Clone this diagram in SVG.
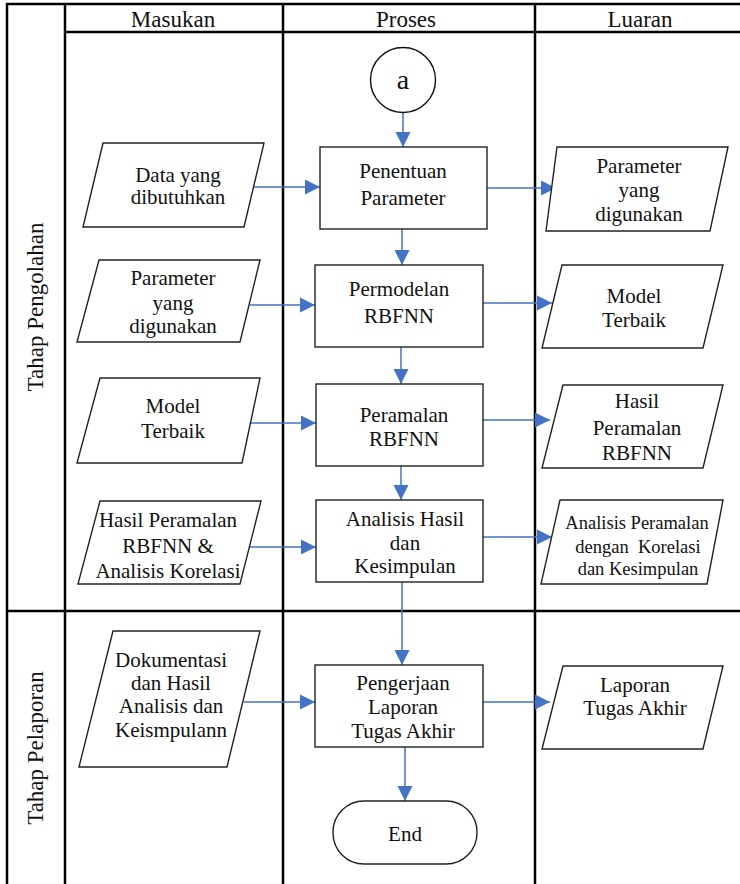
<svg xmlns="http://www.w3.org/2000/svg" width="740" height="884" viewBox="0 0 740 884">
<style>
text{font-family:'Liberation Serif',Tinos,'Times New Roman','DejaVu Serif','Noto Serif',serif;fill:#111;text-anchor:middle}
.hd{font-size:23px}
.t{font-size:21px}
.s{font-size:18.5px}
.lane{stroke:#000;stroke-width:2.5;fill:none}
.box{fill:#fff;stroke:#222;stroke-width:1.4}
.con{stroke:#4472C4;stroke-width:1.5;fill:none;marker-end:url(#ah)}
</style>
<defs>
<marker id="ah" markerUnits="userSpaceOnUse" markerWidth="16" markerHeight="16" viewBox="0 0 16 16" refX="15" refY="8" orient="auto">
<path d="M0,0.5 L15,8 L0,15.5 Z" fill="#4472C4"/>
</marker>
</defs>
<rect width="740" height="884" fill="#fff"/>
<g id="swimlanes" font-family="Liberation Serif, Tinos, Times New Roman, DejaVu Serif, serif">
<path class="lane" d="M7,884 V4 H742 M65,4 V884 M283,4 V884 M535,4 V884 M65,32 H742 M7,611 H742"/>
<text class="hd" x="173" y="27">Masukan</text>
<text class="hd" x="406" y="27">Proses</text>
<text class="hd" x="640" y="27">Luaran</text>
<text class="hd" transform="translate(43,307) rotate(-90)">Tahap Pengolahan</text>
<text class="hd" transform="translate(43,748) rotate(-90)">Tahap Pelaporan</text>
</g>
<g id="connectors">
<line class="con" x1="403" y1="113" x2="403" y2="147"/>
<line class="con" x1="254" y1="187" x2="320" y2="187"/>
<line class="con" x1="487" y1="188" x2="556" y2="188"/>
<line class="con" x1="402" y1="229" x2="402" y2="265"/>
<line class="con" x1="250" y1="305" x2="315" y2="305"/>
<line class="con" x1="483" y1="303" x2="552" y2="303"/>
<line class="con" x1="401" y1="347" x2="401" y2="384"/>
<line class="con" x1="251" y1="423" x2="316" y2="423"/>
<line class="con" x1="483" y1="420" x2="550" y2="420"/>
<line class="con" x1="401" y1="466" x2="401" y2="500"/>
<line class="con" x1="248" y1="547" x2="316" y2="547"/>
<line class="con" x1="483" y1="537" x2="552" y2="537"/>
<line class="con" x1="402" y1="582" x2="402" y2="665"/>
<line class="con" x1="244" y1="702" x2="315" y2="702"/>
<line class="con" x1="483" y1="702" x2="550" y2="702"/>
<line class="con" x1="405" y1="747" x2="405" y2="801"/>
</g>
<g id="node-a">
<circle cx="403" cy="80" r="32.5" fill="#fff" stroke="#111" stroke-width="1.4"/>
<text x="403" y="89" style="font-size:28px">a</text>
</g>
<g id="node-data">
<polygon class="box" points="103,143 264,143 244,227 83,227"/>
<text class="t" x="178" y="182">Data yang</text>
<text class="t" x="178" y="204">dibutuhkan</text>
</g>
<g id="node-penentuan">
<rect class="box" x="320" y="147" width="167" height="82"/>
<text class="t" x="403" y="178">Penentuan</text>
<text class="t" x="403" y="205">Parameter</text>
</g>
<g id="node-param-out">
<polygon class="box" points="557,147 728,147 710,231 546,231"/>
<text class="t" x="639" y="173">Parameter</text>
<text class="t" x="639" y="197">yang</text>
<text class="t" x="639" y="221">digunakan</text>
</g>
<g id="node-param-in">
<polygon class="box" points="99,260 260,260 240,342 77,342"/>
<text class="t" x="173" y="285">Parameter</text>
<text class="t" x="173" y="310">yang</text>
<text class="t" x="173" y="333">digunakan</text>
</g>
<g id="node-permodelan">
<rect class="box" x="315" y="265" width="168" height="82"/>
<text class="t" x="399" y="296">Permodelan</text>
<text class="t" x="399" y="323">RBFNN</text>
</g>
<g id="node-model-out">
<polygon class="box" points="562,265 723,265 703,348 542,348"/>
<text class="t" x="634" y="303">Model</text>
<text class="t" x="634" y="327">Terbaik</text>
</g>
<g id="node-model-in">
<polygon class="box" points="100,378 260,378 242,463 77,463"/>
<text class="t" x="173" y="413">Model</text>
<text class="t" x="173" y="438">Terbaik</text>
</g>
<g id="node-peramalan">
<rect class="box" x="316" y="384" width="167" height="82"/>
<text class="t" x="404" y="422">Peramalan</text>
<text class="t" x="404" y="446">RBFNN</text>
</g>
<g id="node-hasil-out">
<polygon class="box" points="563,385 723,385 703,468 542,468"/>
<text class="t" x="637" y="408">Hasil</text>
<text class="t" x="637" y="435">Peramalan</text>
<text class="t" x="637" y="460">RBFNN</text>
</g>
<g id="node-hasil-in">
<polygon class="box" points="100,501 261,501 240,584 78,584"/>
<text class="t" x="168" y="527">Hasil Peramalan</text>
<text class="t" x="168" y="553">RBFNN &amp;</text>
<text class="t" x="168" y="578">Analisis Korelasi</text>
</g>
<g id="node-analisis">
<rect class="box" x="316" y="500" width="167" height="82"/>
<text class="t" x="405" y="526">Analisis Hasil</text>
<text class="t" x="405" y="550">dan</text>
<text class="t" x="405" y="573">Kesimpulan</text>
</g>
<g id="node-analisis-out">
<polygon class="box" points="560,500 723,500 707,584 541,584"/>
<text class="s" x="637" y="529">Analisis Peramalan</text>
<text class="s" x="638" y="553" xml:space="preserve">dengan  Korelasi</text>
<text class="s" x="638" y="575">dan Kesimpulan</text>
</g>
<g id="node-dokumentasi">
<polygon class="box" points="113,631 260,631 227,767 79,767"/>
<text class="t" x="171" y="667">Dokumentasi</text>
<text class="t" x="171" y="690">dan Hasil</text>
<text class="t" x="171" y="713">Analisis dan</text>
<text class="t" x="171" y="737">Keismpulann</text>
</g>
<g id="node-pengerjaan">
<rect class="box" x="315" y="665" width="168" height="82"/>
<text class="t" x="403" y="690">Pengerjaan</text>
<text class="t" x="403" y="714">Laporan</text>
<text class="t" x="403" y="738">Tugas Akhir</text>
</g>
<g id="node-laporan">
<polygon class="box" points="563,666 723,666 703,749 542,749"/>
<text class="t" x="635" y="692">Laporan</text>
<text class="t" x="635" y="715">Tugas Akhir</text>
</g>
<g id="node-end">
<rect class="box" x="333" y="801" width="144" height="63" rx="31" ry="31"/>
<text class="t" x="405" y="841">End</text>
</g>
</svg>
